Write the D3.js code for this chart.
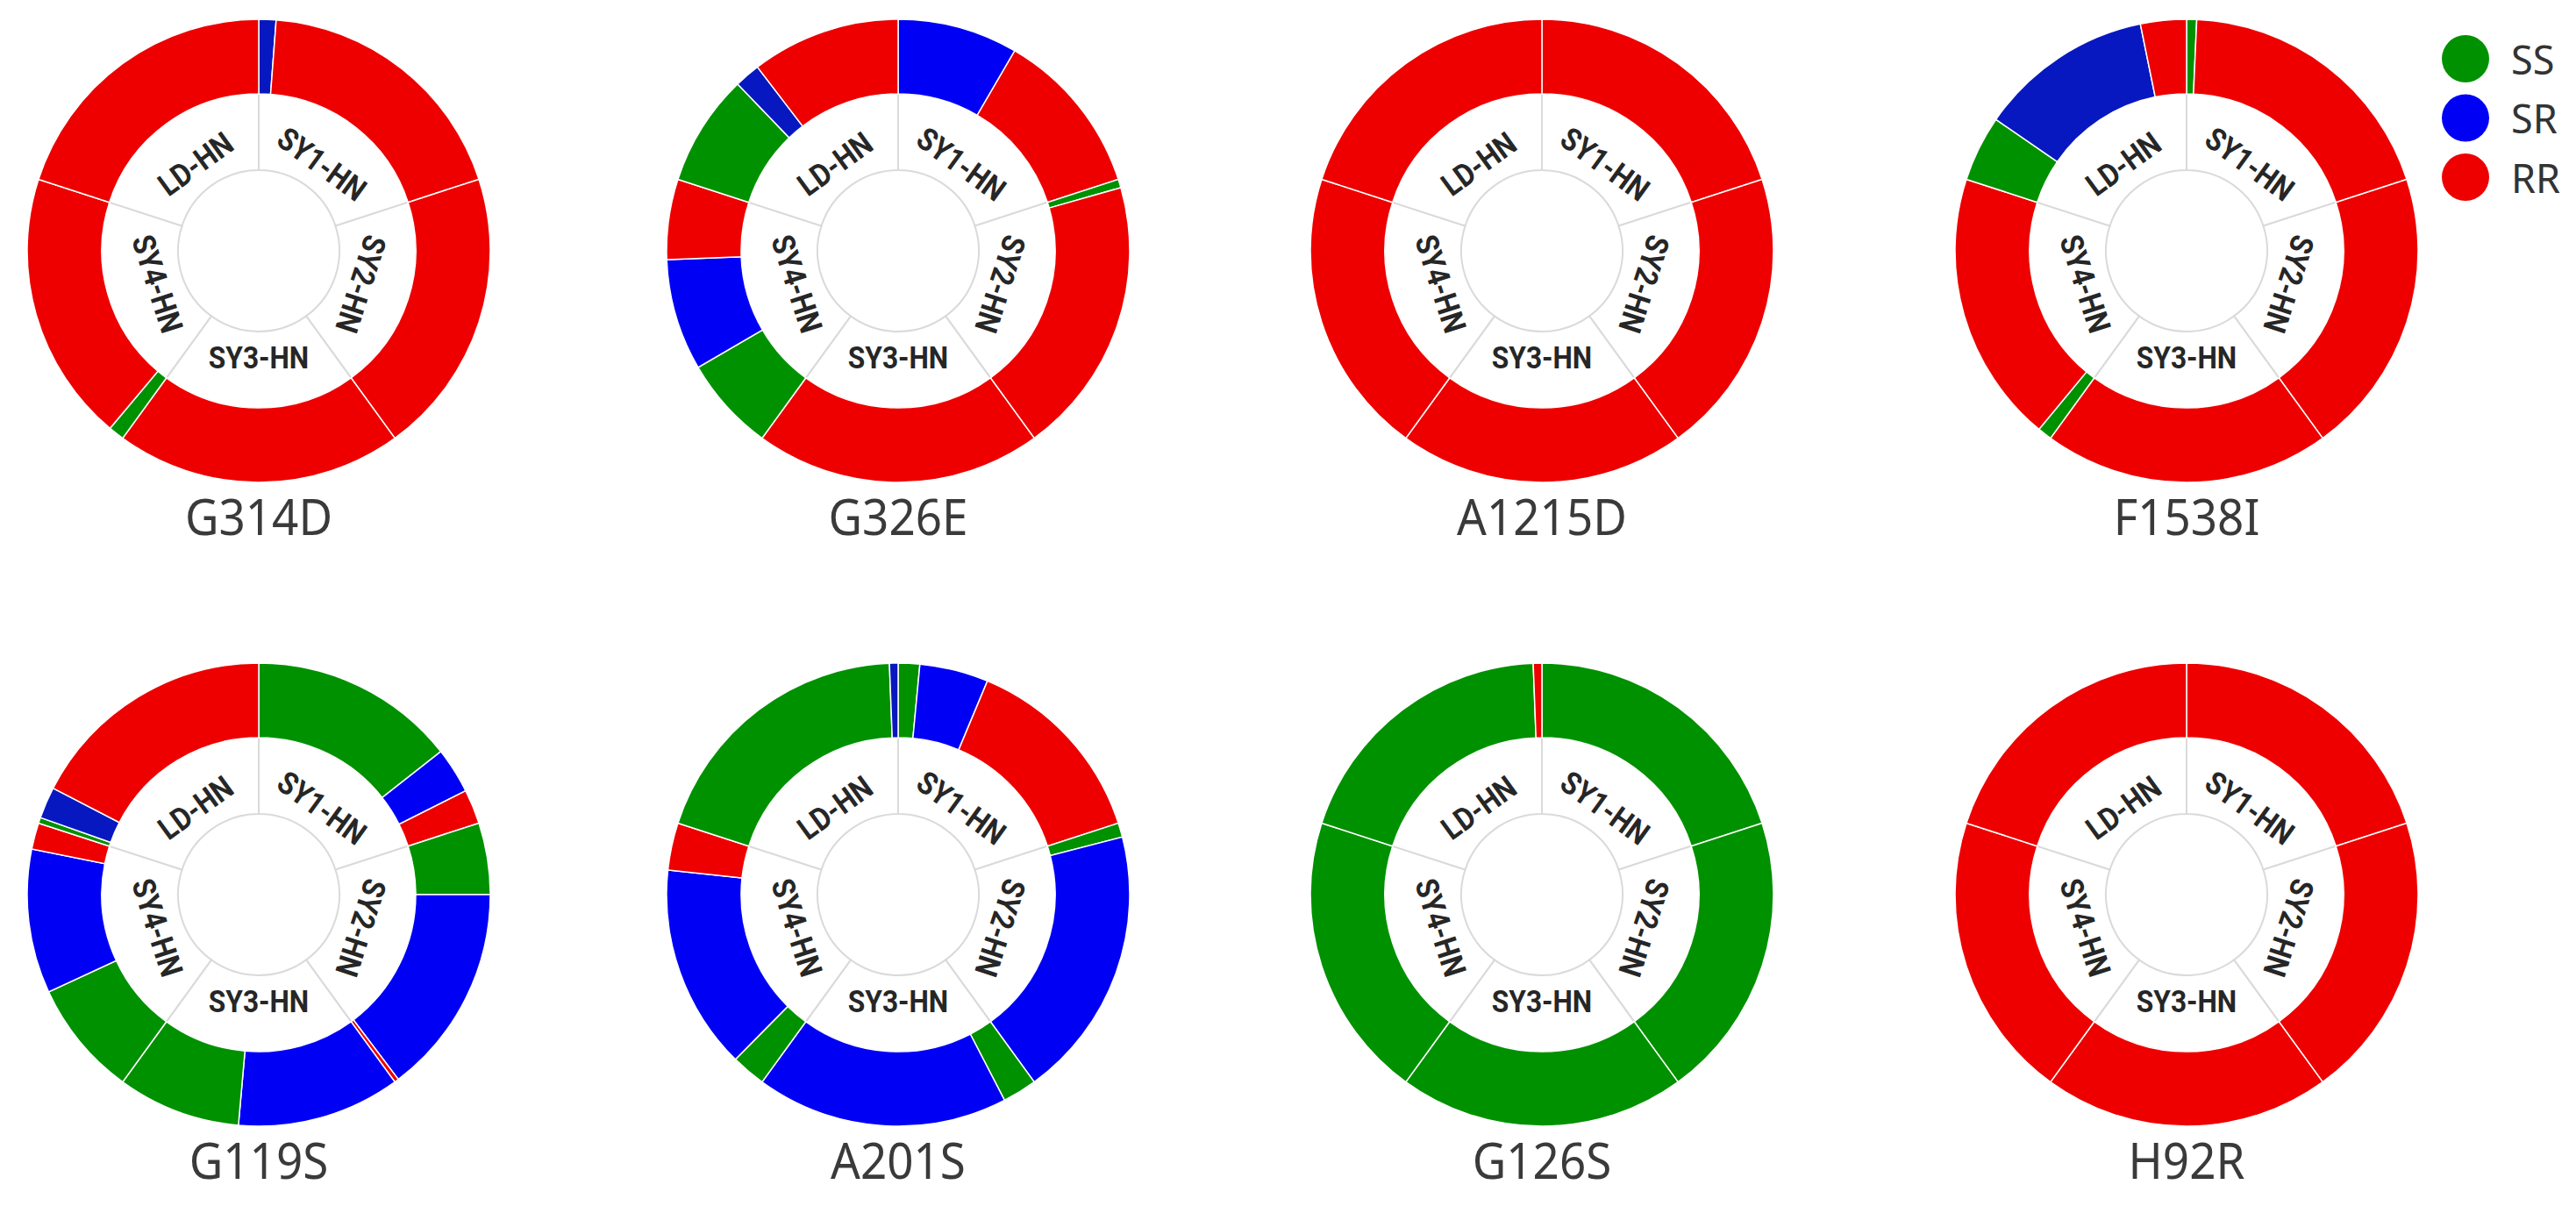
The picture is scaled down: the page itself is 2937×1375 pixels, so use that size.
<!DOCTYPE html>
<html><head><meta charset="utf-8">
<script src="https://cdn.jsdelivr.net/npm/d3@7"></script>
<style>html,body{margin:0;padding:0;background:#fff;} svg{display:block}</style>
</head><body>
<svg id="c" width="2937" height="1375"></svg>
<script>
// ---- data ----
const sites = ["SY1-HN", "SY2-HN", "SY3-HN", "SY4-HN", "LD-HN"];
const genotypes = ["SS", "SR", "RR"];
const mutations = ["G314D", "G326E", "A1215D", "F1538I", "G119S", "A201S", "G126S", "H92R"];
// per site (SY1..LD), ring segments in drawing order: [genotype, percent]
const G314D  = [[["SR", 6], ["RR", 94]], [["RR", 100]], [["RR", 100]], [["SS", 5.5], ["RR", 94.5]], [["RR", 100]]];
const G326E  = [[["SR", 42], ["RR", 58]], [["SS", 3], ["RR", 97]], [["RR", 100]], [["SS", 33], ["SR", 39], ["RR", 28]], [["SS", 39], ["SR", 9], ["RR", 52]]];
const A1215D = [[["RR", 100]], [["RR", 100]], [["RR", 100]], [["RR", 100]], [["RR", 100]]];
const F1538I = [[["SS", 3.5], ["RR", 96.5]], [["RR", 100]], [["RR", 100]], [["SS", 5], ["RR", 95]], [["SS", 23], ["SR", 61], ["RR", 16]]];
const G119S  = [[["SS", 72], ["SR", 16], ["RR", 12]], [["SS", 25], ["SR", 73.5], ["RR", 1.5]], [["SR", 57], ["SS", 43]], [["SS", 40.5], ["SR", 50.3], ["RR", 9.2]], [["SS", 2], ["SR", 11], ["RR", 87]]];
const A201S  = [[["SS", 7.5], ["SR", 24], ["RR", 68.5]], [["SS", 5], ["SR", 95]], [["SS", 12], ["SR", 88]], [["SS", 12], ["SR", 71.5], ["RR", 16.5]], [["SS", 97], ["SR", 3]]];
const G126S  = [[["SS", 100]], [["SS", 100]], [["SS", 100]], [["SS", 100]], [["SS", 97], ["RR", 3]]];
const H92R   = [[["RR", 100]], [["RR", 100]], [["RR", 100]], [["RR", 100]], [["RR", 100]]];
const segmentsOf = {G314D, G326E, A1215D, F1538I, G119S, A201S, G126S, H92R};
// site indexes whose SR segment is drawn in the darker blue shade
const darkSRSites = {G314D: [0], G326E: [4], F1538I: [4], G119S: [4], A201S: [4]};

// ---- style ----
const palette = {SS: "#009100", SR: "#0000f5", RR: "#ee0000"};
const darkBlue = "#0818c0";
const colX = [295, 1024, 1758, 2493], rowY = [286, 1020];
const R_OUT = 264, R_IN = 179, R_HUB = 92, R_LABEL = 122;

const svg = d3.select("#c");
const pie = d3.pie().value(() => 1).sort(null);
const arc = d3.arc();
const pct = d3.scaleLinear().domain([0, 100]);

mutations.forEach((m, i) => {
  const g = svg.append("g")
    .attr("transform", `translate(${colX[i % 4]},${rowY[Math.floor(i / 4)]})`);
  const siteArcs = pie(sites);

  // inner white sectors with grey borders
  g.selectAll("path.site").data(siteArcs).join("path")
    .attr("class", "site")
    .attr("d", d => arc({innerRadius: R_HUB, outerRadius: R_IN + 1, startAngle: d.startAngle, endAngle: d.endAngle}))
    .attr("fill", "#fff").attr("stroke", "#dadada").attr("stroke-width", 2);

  // outer ring segments
  const segs = [];
  const dark = darkSRSites[m] || [];
  siteArcs.forEach((s, j) => {
    const a = pct.copy().range([s.startAngle, s.endAngle]);
    let acc = 0;
    segmentsOf[m][j].forEach(([gt, v]) => {
      const col = (gt === "SR" && dark.includes(j)) ? darkBlue : palette[gt];
      segs.push({gt, col, startAngle: a(acc), endAngle: a(acc + v)});
      acc += v;
    });
  });
  g.selectAll("path.seg").data(segs).join("path")
    .attr("class", "seg")
    .attr("d", d => arc({innerRadius: R_IN, outerRadius: R_OUT, startAngle: d.startAngle, endAngle: d.endAngle}))
    .attr("fill", d => d.col).attr("stroke", "#fff").attr("stroke-width", 1.5);

  // site labels (tangential)
  g.selectAll("text.lab").data(siteArcs).join("text")
    .attr("class", "lab")
    .attr("transform", d => {
      const mid = (d.startAngle + d.endAngle) / 2;
      const deg = mid * 180 / Math.PI;
      const rot = (deg > 120 && deg < 300) ? deg - 180 : deg;
      return `translate(${R_LABEL * Math.sin(mid)},${-R_LABEL * Math.cos(mid)}) rotate(${rot}) scale(0.88,1)`;
    })
    .attr("text-anchor", "middle").attr("dominant-baseline", "central")
    .attr("font-family", "Roboto, 'Noto Sans', sans-serif").attr("font-weight", 700)
    .attr("font-size", 36).attr("fill", "#262626")
    .text(d => d.data);

  // title
  g.append("text")
    .attr("transform", `translate(0,${R_OUT + 60}) scale(0.93,1)`)
    .attr("text-anchor", "middle")
    .attr("font-family", "'Noto Sans', Roboto, sans-serif")
    .attr("font-size", 57).attr("fill", "#3a3a3a")
    .text(m);
});

// legend
const lg = svg.append("g").attr("transform", "translate(2811,67)");
const leg = lg.selectAll("g").data(genotypes).join("g")
  .attr("transform", (d, k) => `translate(0,${k * 67.5})`);
leg.append("circle").attr("r", 27).attr("fill", d => palette[d]);
leg.append("text").attr("x", 52).attr("y", 0).attr("dominant-baseline", "central")
  .attr("font-family", "'Noto Sans', sans-serif").attr("font-size", 45).attr("fill", "#333")
  .text(d => d);
</script>
</body></html>
